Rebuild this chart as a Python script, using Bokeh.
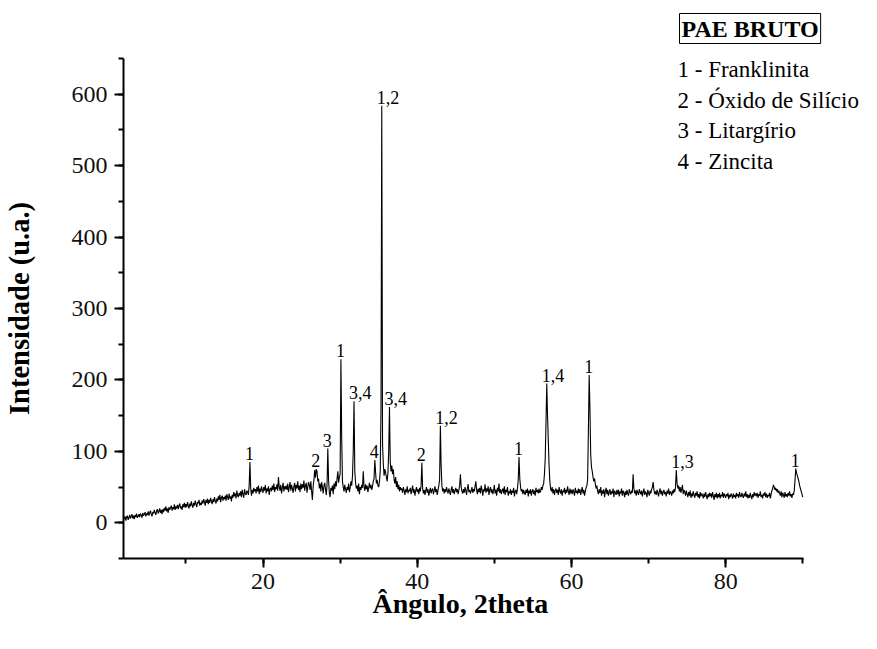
import numpy as np
from bokeh.plotting import figure
from bokeh.models import Range1d, SingleIntervalTicker, Label, ColumnDataSource, Title
from bokeh.embed import file_html
from bokeh.resources import INLINE

# ---- data (2theta grid from 2.0 to 90.0, step 0.1) ----
theta_start = 2.0
theta_step = 0.1
intensity = [
    5, 9, 3, 8, 10, 4, 7, 11, 6, 9,            # 2
    12, 6, 10, 5, 11, 8, 13, 7, 9, 12,         # 3
    8, 13, 11, 7, 14, 10, 12, 15, 9, 13,       # 4
    11, 16, 10, 14, 17, 12, 9, 15, 13, 18,     # 5
    14, 11, 17, 19, 13, 16, 20, 14, 18, 12,    # 6
    19, 15, 21, 17, 23, 16, 20, 14, 22, 18,    # 7
    21, 24, 17, 22, 19, 26, 18, 23, 20, 25,    # 8
    19, 24, 27, 20, 23, 18, 26, 22, 28, 21,    # 9
    26, 22, 29, 24, 20, 27, 23, 30, 25, 21,    # 10
    28, 24, 31, 26, 22, 29, 27, 32, 24, 28,    # 11
    25, 31, 27, 33, 29, 24, 32, 28, 34, 26,    # 12
    32, 28, 35, 30, 26, 33, 29, 36, 31, 27,    # 13
    34, 30, 37, 32, 39, 29, 35, 38, 31, 36,    # 14
    33, 38, 31, 40, 36, 32, 41, 34, 37, 30,    # 15
    39, 35, 43, 37, 41, 34, 45, 38, 36, 42,    # 16
    38, 44, 36, 46, 40, 35, 47, 41, 39, 45,    # 17
    43, 39, 52, 85, 48, 38, 46, 41, 49, 44,    # 18
    47, 41, 50, 44, 52, 40, 48, 43, 51, 46,    # 19
    42, 50, 45, 53, 41, 48, 44, 51, 39, 47,    # 20
    49, 44, 52, 46, 55, 43, 50, 47, 54, 45,    # 21
    64, 50, 45, 53, 41, 49, 56, 44, 51, 47,    # 22
    52, 46, 55, 43, 50, 57, 45, 53, 48, 42,    # 23
    51, 56, 44, 53, 48, 58, 46, 52, 43, 55,    # 24
    47, 54, 49, 59, 45, 52, 56, 42, 50, 57,    # 25
    53, 46, 58, 44, 32, 51, 60, 74, 63, 75,    # 26
    72, 58, 62, 48, 55, 44, 57, 50, 41, 52,    # 27
    56, 47, 39, 53, 104, 60, 42, 36, 49, 45,   # 28
    52, 40, 55, 47, 58, 51, 62, 72, 56, 64,    # 29
    68, 229, 120, 58, 50, 44, 53, 47, 42, 50,  # 30
    46, 55, 43, 49, 58, 52, 65, 100, 170, 72,  # 31
    56, 48, 52, 44, 55, 40, 50, 46, 53, 49,    # 32
    72, 50, 45, 54, 47, 52, 43, 49, 56, 48,    # 33
    53, 46, 51, 58, 62, 88, 70, 55, 60, 52,    # 34
    50, 58, 72, 160, 584, 110, 82, 66, 75, 70,  # 35
    64, 58, 70, 100, 162, 85, 72, 80, 68, 75,  # 36
    60, 55, 64, 50, 58, 47, 53, 44, 50, 46,    # 37
    48, 42, 50, 45, 39, 47, 43, 51, 41, 46,    # 38
    44, 49, 40, 46, 52, 42, 47, 38, 45, 50,    # 39
    43, 47, 40, 49, 44, 52, 84, 48, 41, 46,    # 40
    39, 45, 50, 42, 47, 38, 44, 49, 41, 46,    # 41
    48, 40, 45, 51, 43, 47, 39, 46, 52, 60,    # 42
    136, 80, 52, 44, 48, 41, 47, 43, 50, 45,   # 43
    41, 48, 44, 39, 46, 51, 42, 47, 40, 45,    # 44
    49, 43, 47, 40, 46, 52, 68, 50, 44, 41,    # 45
    47, 42, 50, 45, 39, 48, 54, 43, 46, 41,    # 46
    45, 50, 42, 47, 44, 51, 58, 46, 40, 48,    # 47
    43, 49, 41, 52, 46, 38, 47, 44, 54, 42,    # 48
    48, 44, 51, 39, 46, 50, 42, 47, 40, 45,    # 49
    53, 41, 46, 38, 49, 44, 55, 42, 47, 40,    # 50
    45, 48, 41, 51, 39, 46, 43, 50, 38, 44,    # 51
    41, 47, 39, 45, 42, 49, 37, 44, 46, 40,    # 52
    48, 60, 92, 62, 50, 44, 47, 40, 46, 42,    # 53
    39, 46, 42, 48, 37, 45, 41, 47, 38, 44,    # 54
    47, 40, 45, 38, 49, 43, 46, 41, 48, 42,    # 55
    44, 50, 46, 52, 55, 68, 90, 140, 195, 150,  # 56
    115, 80, 58, 48, 44, 50, 41, 47, 39, 45,   # 57
    48, 42, 46, 39, 50, 44, 41, 47, 38, 45,    # 58
    43, 49, 40, 46, 42, 51, 44, 39, 48, 41,    # 59
    46, 40, 47, 43, 38, 49, 42, 45, 40, 48,    # 60
    42, 47, 39, 45, 50, 41, 46, 38, 44, 49,    # 61
    52, 60, 130, 207, 160, 95, 78, 72, 64, 58,  # 62
    62, 54, 48, 52, 44, 40, 47, 42, 50, 38,    # 63
    45, 41, 47, 36, 44, 49, 40, 46, 38, 43,    # 64
    47, 39, 44, 41, 48, 36, 45, 42, 39, 46,    # 65
    40, 46, 37, 44, 41, 48, 38, 45, 42, 36,    # 66
    44, 39, 46, 41, 38, 47, 43, 40, 45, 42,    # 67
    68, 48, 41, 45, 38, 46, 42, 39, 47, 43,    # 68
    40, 45, 37, 43, 48, 39, 44, 41, 36, 46,    # 69
    42, 38, 45, 41, 47, 50, 57, 46, 40, 44,    # 70
    39, 46, 42, 37, 44, 48, 40, 45, 38, 43,    # 71
    46, 40, 43, 37, 45, 41, 48, 39, 44, 42,    # 72
    38, 45, 41, 47, 43, 50, 74, 55, 48, 52,    # 73
    44, 50, 42, 47, 53, 40, 46, 43, 38, 45,    # 74
    40, 36, 43, 38, 45, 35, 41, 37, 44, 39,    # 75
    35, 42, 38, 44, 36, 40, 34, 43, 37, 41,    # 76
    39, 34, 41, 36, 43, 38, 33, 40, 36, 42,    # 77
    37, 41, 35, 43, 38, 32, 40, 36, 42, 34,    # 78
    40, 36, 42, 34, 39, 37, 43, 35, 41, 38,    # 79
    35, 40, 37, 42, 33, 39, 36, 41, 38, 34,    # 80
    41, 36, 39, 34, 42, 37, 40, 35, 43, 38,    # 81
    36, 42, 38, 35, 41, 37, 44, 36, 40, 34,    # 82
    39, 35, 42, 37, 33, 40, 36, 43, 38, 41,    # 83
    37, 42, 35, 40, 38, 44, 36, 39, 34, 41,    # 84
    38, 43, 36, 41, 35, 39, 37, 42, 34, 40,    # 85
    45, 48, 53, 50, 46, 49, 44, 47, 42, 45,    # 86
    41, 38, 44, 36, 42, 39, 35, 43, 37, 40,    # 87
    36, 42, 38, 44, 37, 40, 35, 41, 39, 45,    # 88
    60, 76, 70, 66, 62, 58, 52, 48, 44, 40,    # 89
    36,                                        # 90
]

# peak annotations (position in 2theta, phase label)
peak_theta = [18.3, 26.9, 28.4, 30.1, 31.8, 34.5, 35.4, 36.4, 40.6, 43.0, 53.2, 56.8, 62.3, 73.6, 89.1]
peak_text = ["1", "2", "3", "1", "3,4", "4", "1,2", "3,4", "2", "1,2", "1", "1,4", "1", "1,3", "1"]

legend_title = "PAE BRUTO"
legend_items = ["1 - Franklinita", "2 - Óxido de Silício", "3 -  Litargírio", "4 - Zincita"]

x_title = "Ângulo, 2theta"
y_title = "Intensidade (u.a.)"

x_axis_span = (1.9, 90.1)
y_axis_span = (-50, 650)

# ---- build ----
theta = np.round(theta_start + theta_step * np.arange(len(intensity)), 1)
y = np.array(intensity, dtype=float)

idx = [int(round((t - theta_start) / theta_step)) for t in peak_theta]
peak_src = ColumnDataSource(dict(x=[theta[i] for i in idx], y=[y[i] for i in idx], t=peak_text))

FONT = "Liberation Serif"
W, H = 877, 649
LEFT, BOTTOM, TOP = 123, 91, 57
AX_RIGHT_PX = 803

# the frame reaches the right edge so the text block is not clipped;
# the x axis itself is limited with bounds
px_per_x = (AX_RIGHT_PX - LEFT) / (x_axis_span[1] - x_axis_span[0])
x_end = x_axis_span[1] + (W - AX_RIGHT_PX) / px_per_x

p = figure(width=W, height=H, x_range=Range1d(x_axis_span[0], x_end),
           y_range=Range1d(*y_axis_span),
           output_backend="svg", toolbar_location=None,
           min_border_left=LEFT, min_border_right=0, min_border_top=TOP, min_border_bottom=BOTTOM)
p.outline_line_color = None
p.grid.visible = False
p.background_fill_color = "white"

p.line(theta, y, line_color="black", line_width=1.1)

p.text(x="x", y="y", text="t", source=peak_src, text_font=FONT, text_font_size="18px",
       text_color="black", text_align="left", text_baseline="bottom", x_offset=-5, y_offset=-2)

for ax in (p.xaxis[0], p.yaxis[0]):
    ax.axis_line_width = 2
    ax.major_tick_line_width = 2
    ax.minor_tick_line_width = 2
    ax.major_tick_in = 0
    ax.major_tick_out = 9
    ax.minor_tick_in = 0
    ax.minor_tick_out = 5
    ax.major_label_text_font = FONT
    ax.major_label_text_font_size = "24px"
    ax.major_label_text_color = "#111111"

p.xaxis[0].ticker = SingleIntervalTicker(interval=20, num_minor_ticks=2)
p.yaxis[0].ticker = SingleIntervalTicker(interval=100, num_minor_ticks=2)
p.xaxis[0].bounds = x_axis_span
p.xaxis[0].major_label_standoff = 6
p.yaxis[0].major_label_standoff = 7

# y title: regular axis label (frame spans the axis height)
p.yaxis[0].axis_label = y_title
p.yaxis[0].axis_label_text_font = FONT
p.yaxis[0].axis_label_text_font_style = "bold"
p.yaxis[0].axis_label_text_font_size = "28.5px"
p.yaxis[0].axis_label_text_color = "black"
p.yaxis[0].axis_label_standoff = 34

# x title: placed under the bounded axis
p.add_layout(Title(text=x_title, align="left", offset=372 - LEFT, text_font=FONT,
                   text_font_style="bold", text_font_size="28px", text_color="black",
                   standoff=-8, vertical_align="top"), "below")

# boxed heading above the frame
p.add_layout(Title(text=legend_title, align="left", offset=679 - LEFT, text_font=FONT,
                   text_font_style="bold", text_font_size="24px", text_color="black",
                   border_line_color="black", border_line_width=1, padding=2,
                   standoff=26, vertical_align="top"), "above")

# phase list (screen units: x from frame left, y from frame bottom)
fb = H - BOTTOM
for k, item in enumerate(legend_items):
    base = 69 + 30.7 * k
    p.add_layout(Label(x=677 - LEFT, y=fb - base, x_units="screen", y_units="screen",
                       text=item, text_font=FONT, text_font_size="23px", text_color="black",
                       text_baseline="alphabetic"))

open("out.html", "w").write(file_html(p, INLINE))
